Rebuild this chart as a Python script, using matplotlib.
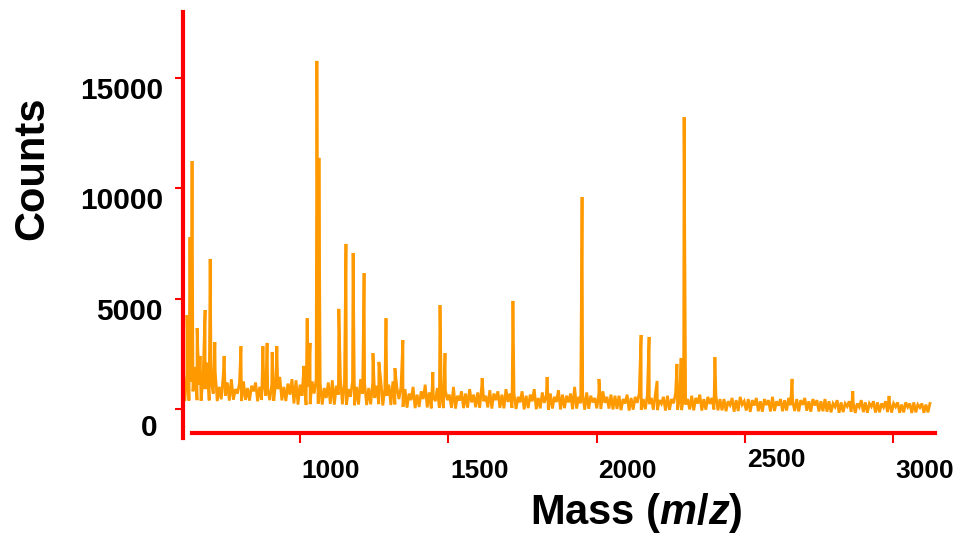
import numpy as np
import matplotlib
matplotlib.use('Agg')
import matplotlib.pyplot as plt

plt.rcParams['font.family'] = ['Liberation Sans', 'DejaVu Sans']
plt.rcParams['mathtext.fontset'] = 'custom'
plt.rcParams['mathtext.it'] = 'Liberation Sans:italic:bold'
plt.rcParams['mathtext.rm'] = 'Liberation Sans:bold'

# spectrum sampling range (m/z)
mass_start = 612
mass_end = 3124

# baseline / noise readings, evenly spaced between mass_start and mass_end
noise_counts = [
    # ~605-970
    420, 1600, 380, 1250, 800, 1900, 400, 1100, 370, 1450, 900, 2100, 390, 1300, 700, 1700, 360, 1000,
    440, 1550, 600, 1200, 380, 1350, 420, 900, 700, 1150, 360, 1250, 410, 950, 380, 1050, 800, 1200,
    350, 1000, 420, 1300, 600, 900, 400, 1100, 370, 1250, 900, 1450, 390, 1000, 360, 1150, 650, 1350,
    # ~970-1330
    250, 1300, 200, 1100, 600, 1400, 180, 1000, 220, 1250, 700, 1350, 240, 1150, 200, 950, 500, 1200,
    230, 1300, 200, 1050, 650, 1400, 210, 1100, 190, 900, 550, 1250, 170, 1000, 200, 1350, 700, 1150,
    180, 950, 210, 1200, 500, 1050, 220, 1300, 160, 900, 600, 1100, 180, 1250, 210, 950, 450, 1000,
    # ~1330-1690
    100, 900, 60, 700, 400, 1000, 40, 650, 90, 800, 450, 1100, 70, 750, 30, 600, 350, 950,
    60, 700, 40, 850, 400, 650, 50, 1000, 20, 600, 380, 800, 40, 700, 60, 900, 300, 650,
    80, 750, 50, 1050, 350, 600, 70, 850, 20, 700, 400, 800, 50, 650, 30, 900, 320, 700,
    # ~1690-2050
    50, 700, 0, 550, 300, 800, -20, 600, 40, 650, 350, 900, -10, 500, 30, 750, 280, 600,
    -30, 700, 20, 550, 320, 850, -20, 650, 40, 600, 300, 700, -10, 1000, 20, 550, 260, 650,
    -30, 750, 10, 600, 300, 500, 30, 700, 0, 800, 280, 550, 20, 650, -20, 600,
    # ~2050-2415
    0, 600, -50, 450, 250, 650, -70, 500, -30, 550, 280, 700, -40, 450, -10, 600, 220, 500,
    -30, 650, -50, 400, 240, 550, -70, 600, -40, 450, 260, 700, -30, 500, -50, 550, 200, 450,
    -20, 600, -60, 500, 250, 650, -70, 450, -30, 550, 230, 500, -20, 600, -60, 450,
    # ~2415-2775
    -60, 450, -100, 350, 180, 500, -120, 400, -90, 550, 200, 350, -70, 450, -130, 400, 160, 500,
    -100, 350, -120, 450, 180, 400, -110, 550, -90, 350, 150, 450, -100, 400, -70, 500, 170, 350,
    -90, 450, -110, 400, 190, 500, -80, 350, -120, 450, 160, 400, -110, 350, -100, 450,
    # ~2775-3124
    -120, 350, -150, 250, 100, 400, -170, 300, -140, 250, 120, 350, -130, 300, -180, 250, 90, 400,
    -140, 300, -170, 250, 110, 350, -160, 300, -150, 250, 80, 350, -140, 300, -160, 250, 100, 300,
    -170, 200, -150, 300, 90, 250, -180, 300, -150, 200, 70, 250, -170, 200, -150, 250,
]

# peaks (m/z, counts)
peak_mass = [619, 629, 636, 653, 663, 680, 697, 713, 744, 801, 875, 889, 906, 922,
             1013, 1024, 1034, 1057, 1064, 1131, 1155, 1179, 1216, 1246, 1266, 1290, 1320,
             1347, 1448, 1472, 1489, 1614, 1718, 1833, 1951, 2008, 2150, 2177, 2204,
             2271, 2285, 2295, 2399, 2659, 2864, 2986]
peak_counts = [4250, 7780, 11220, 3660, 2400, 4480, 6790, 3030, 2400, 2850, 2850, 2990, 2580, 2850,
               1950, 4110, 2990, 15750, 11360, 4530, 7470, 7060, 6150, 2530, 2130, 4110, 1850,
               3120, 1670, 4700, 2530, 1400, 4890, 1450, 9590, 1360, 3350, 3260, 1270,
               2040, 2310, 13210, 2350, 1360, 810, 590]

xtick_vals = [1000, 1500, 2000, 2500, 3000]
ytick_vals = [0, 5000, 10000, 15000]

noise_mass = np.linspace(mass_start, mass_end, len(noise_counts))
mass = np.concatenate([noise_mass, peak_mass])
counts = np.concatenate([noise_counts, peak_counts])
order = np.argsort(mass, kind='stable')
mass = mass[order]
counts = counts[order]

fig = plt.figure(figsize=(9.66, 5.38), dpi=100)
ax = fig.add_axes([183/966, 100/538, 752/966, 426/538])

ax.plot(mass, counts, color='#ff9900', lw=2.0, solid_joinstyle='miter')

ax.set_xlim(605.5, 3141)
ax.set_ylim(-1312, 17964)

red = '#ff0000'
for s in ['top', 'right']:
    ax.spines[s].set_visible(False)
ax.spines['left'].set_color(red)
ax.spines['left'].set_linewidth(3)
ax.spines['bottom'].set_color(red)
ax.spines['bottom'].set_linewidth(3)
ax.spines['bottom'].set_position(('data', -1086))
ax.spines['bottom'].set_bounds(636, 3141)

ax.set_xticks(xtick_vals)
ax.set_yticks(ytick_vals)
ax.tick_params(axis='x', direction='out', length=7, width=1.5, color=red, labelbottom=False)
ax.tick_params(axis='y', direction='out', length=5.8, width=1.5, color=red, labelleft=False)

# tick labels sit a bit off their ticks in the original
for v in xtick_vals:
    dy = -22 if v == 2500 else -33
    ax.annotate(str(v), xy=(v, 0), xycoords=('data', 'axes fraction'),
                xytext=(31, dy), textcoords='offset pixels',
                ha='center', va='center', fontsize=19, fontweight='bold',
                annotation_clip=False)
for v in ytick_vals:
    dx, dy = (-25, -19) if v == 0 else (-20, -13)
    ax.annotate(str(v), xy=(0, v), xycoords=('axes fraction', 'data'),
                xytext=(dx, dy), textcoords='offset pixels',
                ha='right', va='center', fontsize=21.5, fontweight='bold',
                annotation_clip=False)

fig.text(32/966, 1 - 168/538, 'Counts', rotation=90, fontsize=30, fontweight='bold',
         ha='center', va='center')
fig.text(636/966, 1 - 513/538, 'Mass ($m/z$)', fontsize=30, fontweight='bold',
         ha='center', va='center')

plt.savefig('out.png', dpi=100)
